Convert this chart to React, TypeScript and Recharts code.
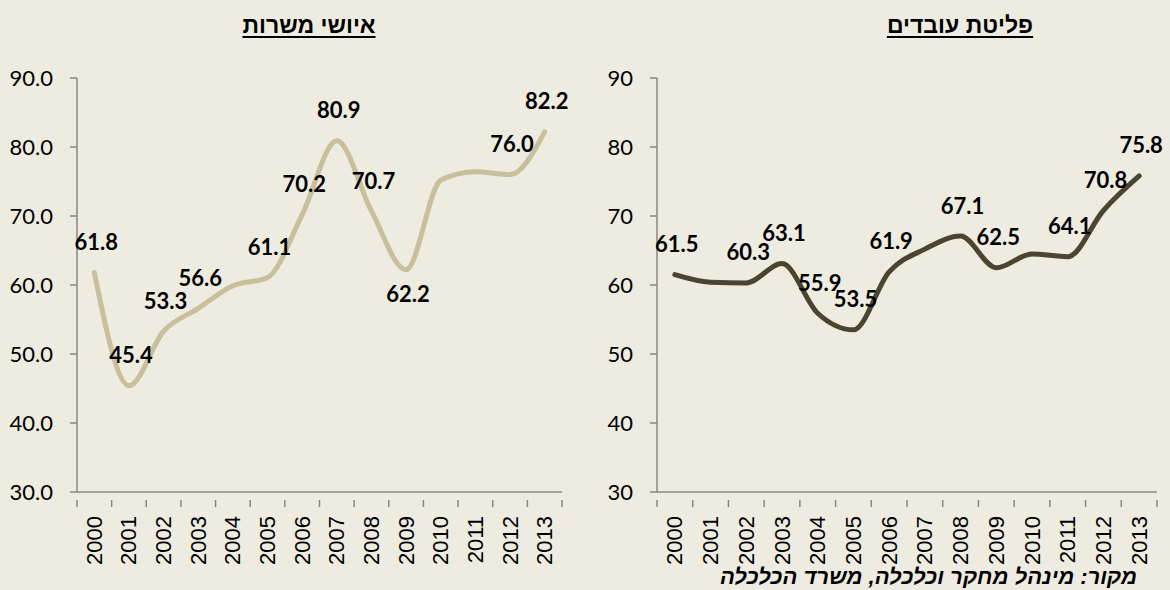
import React from "react";
import { LineChart, Line, XAxis, YAxis, LabelList } from "recharts";

// years on the category axis
const years = ["2000", "2001", "2002", "2003", "2004", "2005", "2006", "2007", "2008", "2009", "2010", "2011", "2012", "2013"];

// איושי משרות
const jobFilling = [61.8, 45.4, 53.3, 56.6, 59.9, 61.1, 70.2, 80.9, 70.7, 62.2, 75.2, 76.4, 76.0, 82.2];
// פליטת עובדים
const workerOutflow = [61.5, 60.4, 60.3, 63.1, 55.9, 53.5, 61.9, 65.2, 67.1, 62.5, 64.5, 64.1, 70.8, 75.8];

// points without a data label in the original
const jobFillingNoLabel = [4, 10, 11];
const workerOutflowNoLabel = [1, 7, 10];

const yTicks = [30, 40, 50, 60, 70, 80, 90];

const BG = "#EEEBE0";
const AXIS = "#878787";

interface PanelProps {
  title: string;
  titleCenter: number;
  values: number[];
  color: string;
  noLabel: number[];
  labelBelow: number[];
  tickDecimals: number;
  yAxisWidth: number;
  rightMargin: number;
  left: number;
}

const CHART_W = 585;
const CHART_H = 590;
const TOP = 78;
const BOTTOM = 98;

const Panel: React.FC<PanelProps> = ({ title, titleCenter, values, color, noLabel, labelBelow, tickDecimals, yAxisWidth, rightMargin, left }) => {
  const data = values.map((v, i) => ({ idx: i, value: v }));
  const plotW = CHART_W - yAxisWidth - rightMargin;
  const step = plotW / years.length;

  const XTick = (props: any) => {
    const { x, y, payload } = props;
    const i = payload.value as number;
    const ty = y + 16;
    return (
      <g>
        <line x1={x - step / 2} y1={y} x2={x - step / 2} y2={y + 7} stroke={AXIS} strokeWidth={1.5} />
        {i === years.length - 1 && (
          <line x1={x + step / 2} y1={y} x2={x + step / 2} y2={y + 7} stroke={AXIS} strokeWidth={1.5} />
        )}
        <text
          x={x}
          y={ty}
          transform={`rotate(-90, ${x}, ${ty})`}
          textAnchor="end"
          dominantBaseline="central"
          fontFamily="'Liberation Sans', Arial, sans-serif"
          fontSize={22}
          fill="#000"
        >
          {years[i]}
        </text>
      </g>
    );
  };

  const renderLabel = (props: any) => {
    const { x, y, value, index } = props;
    if (noLabel.includes(index)) return null;
    const dy = labelBelow.includes(index) ? 24 : -31;
    return (
      <text
        x={x + 2}
        y={y + dy}
        textAnchor="middle"
        dominantBaseline="central"
        fontFamily="Lato, 'Open Sans', sans-serif"
        fontWeight="bold"
        fontSize={22}
        fill="#000"
      >
        {Number(value).toFixed(1)}
      </text>
    );
  };

  return (
    <div style={{ position: "absolute", left, top: 0, width: CHART_W, height: CHART_H }}>
      <div
        style={{
          position: "absolute",
          top: 10,
          left: titleCenter - left - 150,
          width: 300,
          textAlign: "center",
          fontFamily: "'Liberation Sans', Arial, sans-serif",
          fontWeight: "bold",
          fontSize: 23,
          lineHeight: "30px",
          textDecoration: "underline",
          textDecorationThickness: 2,
          textUnderlineOffset: 3,
          direction: "rtl",
        }}
      >
        {title}
      </div>
      <LineChart width={CHART_W} height={CHART_H} data={data} margin={{ top: TOP, right: rightMargin, bottom: 0, left: 0 }}>
        <XAxis
          dataKey="idx"
          type="number"
          domain={[-0.5, years.length - 0.5]}
          ticks={years.map((_, i) => i)}
          interval={0}
          height={BOTTOM}
          tickLine={false}
          axisLine={{ stroke: AXIS, strokeWidth: 1.5 }}
          tick={<XTick />}
        />
        <YAxis
          domain={[30, 90]}
          ticks={yTicks}
          width={yAxisWidth}
          interval={0}
          tickSize={7}
          tickMargin={17}
          tickLine={{ stroke: AXIS, strokeWidth: 1.5 }}
          axisLine={{ stroke: AXIS, strokeWidth: 1.5 }}
          tickFormatter={(v: number) => v.toFixed(tickDecimals)}
          tick={{ fill: "#000", fontSize: 22, fontFamily: "Lato, 'Open Sans', sans-serif" }}
        />
        <Line
          type="monotone"
          dataKey="value"
          stroke={color}
          strokeWidth={5}
          strokeLinecap="round"
          dot={false}
          activeDot={false}
          isAnimationActive={false}
        >
          <LabelList dataKey="value" content={renderLabel} />
        </Line>
      </LineChart>
    </div>
  );
};

export default function App() {
  return (
    <div style={{ position: "relative", width: 1170, height: 590, background: BG, overflow: "hidden" }}>
      <style>{"body{margin:0;}"}</style>
      <Panel
        title="איושי משרות"
        titleCenter={309}
        values={jobFilling}
        color="#C8BF9C"
        noLabel={jobFillingNoLabel}
        labelBelow={[9]}
        tickDecimals={1}
        yAxisWidth={77}
        rightMargin={23}
        left={0}
      />
      <Panel
        title="פליטת עובדים"
        titleCenter={960}
        values={workerOutflow}
        color="#4A4530"
        noLabel={workerOutflowNoLabel}
        labelBelow={[]}
        tickDecimals={0}
        yAxisWidth={72}
        rightMargin={13}
        left={585}
      />
      <div
        style={{
          position: "absolute",
          right: 33,
          top: 564,
          fontFamily: "'Liberation Sans', Arial, sans-serif",
          fontWeight: "bold",
          fontStyle: "italic",
          fontSize: 22,
          lineHeight: "26px",
          direction: "rtl",
          whiteSpace: "nowrap",
        }}
      >
        מקור: מינהל מחקר וכלכלה, משרד הכלכלה
      </div>
    </div>
  );
}
